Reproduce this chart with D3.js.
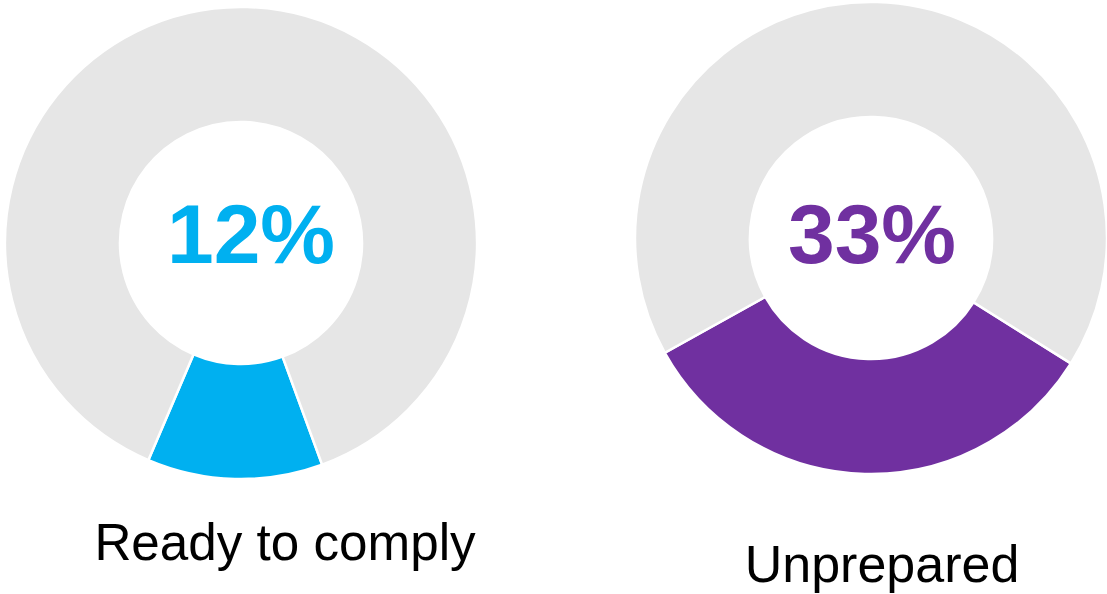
<!DOCTYPE html>
<html>
<head>
<meta charset="utf-8">
<script src="https://cdn.jsdelivr.net/npm/d3@7/dist/d3.min.js"></script>
<style>
  html, body { margin: 0; padding: 0; background: #ffffff; }
  svg { display: block; }
</style>
</head>
<body>
<svg id="chart" width="1107" height="594"></svg>
<script>
// Survey readiness shares, one donut per group
const categories = ["Ready to comply", "Unprepared"];
const values = [12, 33];
const colors = ["#00b0f0", "#7030a0"];
const restColor = "#e6e6e6";

// Layout of each donut
const centers = [[241, 243], [871, 238]];
const valueLabelX = [251, 872];
const categoryLabelPos = [[285, 560], [882, 582]];
const categoryFontSize = [51.2, 52];
const outerR = 236, innerR = 121;

const svg = d3.select("#chart");
const arc = d3.arc().innerRadius(innerR).outerRadius(outerR);
const deg = Math.PI / 180;

categories.forEach((cat, i) => {
  const v = values[i];
  // the highlighted slice hangs from the bottom of the ring
  const start = (181.5 - v * 1.8) * deg;
  const pie = d3.pie().sort(null).value(d => d.value)
    .startAngle(start).endAngle(start + 2 * Math.PI);
  const slices = pie([{ key: "share", value: v }, { key: "rest", value: 100 - v }]);

  const g = svg.append("g").attr("transform", `translate(${centers[i][0]},${centers[i][1]})`);
  g.selectAll("path")
    .data(slices)
    .join("path")
    .attr("d", arc)
    .attr("fill", d => d.data.key === "share" ? colors[i] : restColor)
    .attr("stroke", "#ffffff")
    .attr("stroke-width", 2.5)
    .attr("stroke-linejoin", "miter");

  svg.append("text")
    .attr("x", valueLabelX[i])
    .attr("y", 263)
    .attr("text-anchor", "middle")
    .attr("font-family", "Liberation Sans, Arial, sans-serif")
    .attr("font-weight", "bold")
    .attr("font-size", 84)
    .attr("fill", colors[i])
    .text(v + "%");

  svg.append("text")
    .attr("x", categoryLabelPos[i][0])
    .attr("y", categoryLabelPos[i][1])
    .attr("text-anchor", "middle")
    .attr("font-family", "Liberation Sans, Arial, sans-serif")
    .attr("font-size", categoryFontSize[i])
    .attr("fill", "#000000")
    .text(cat);
});
</script>
</body>
</html>
